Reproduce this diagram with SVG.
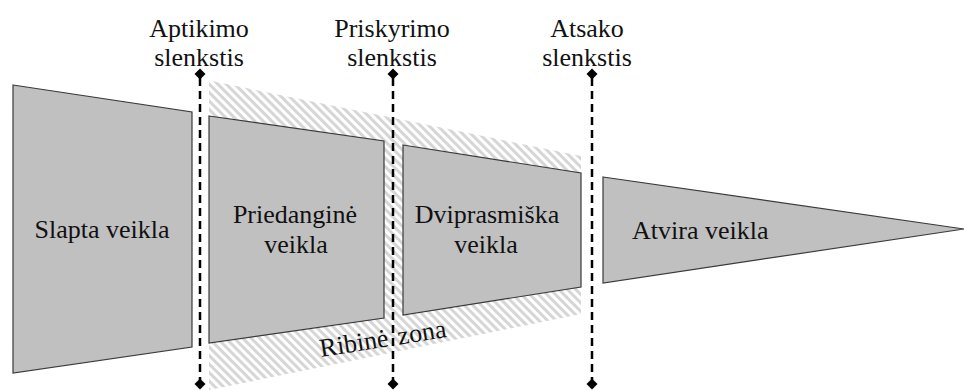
<svg xmlns="http://www.w3.org/2000/svg" width="964" height="390" viewBox="0 0 964 390">
<style>
.shape{fill:#c0c0c0;stroke:#3a3a3a;stroke-width:1.2;stroke-linejoin:miter}
.lbl{font-size:26px;fill:#111;text-anchor:middle}
.thr{stroke:#000;stroke-width:2.5;stroke-dasharray:8 5;fill:none}
.dia{fill:#000}
</style>
<defs>
<pattern id="hatch" patternUnits="userSpaceOnUse" width="6" height="6" patternTransform="rotate(45)">
<rect width="6" height="6" fill="#ffffff"/>
<rect x="0" y="0" width="6" height="3" fill="#d6d6d6"/>
</pattern>
</defs>
<rect width="964" height="390" fill="#fff"/>
<g id="zone">
<polygon points="209,80.5 581,156 581,314 209,390" fill="url(#hatch)"/>
</g>
<g font-family="'Liberation Serif', 'Times New Roman', 'DejaVu Serif', serif">
<g id="slapta">
<polygon class="shape" points="13,85 192,112 192,347 13,373"/>
<text class="lbl" x="102" y="238">Slapta veikla</text>
</g>
<g id="priedangine">
<polygon class="shape" points="209,116 384,141 384,318 209,343"/>
<text class="lbl" x="295" y="223">Priedanginė</text>
<text class="lbl" x="296" y="253">veikla</text>
</g>
<g id="dviprasmiska">
<polygon class="shape" points="403,145 581,173 581,287 403,315"/>
<text class="lbl" x="487" y="223">Dviprasmiška</text>
<text class="lbl" x="486" y="253">veikla</text>
</g>
<g id="atvira">
<polygon class="shape" points="603,177 964,229 603,283"/>
<text class="lbl" x="632" y="239" text-anchor="start" style="text-anchor:start">Atvira veikla</text>
</g>
<g id="connectors">
<line class="thr" x1="200" y1="78" x2="200" y2="380"/>
<line class="thr" x1="393" y1="78" x2="393" y2="380"/>
<line class="thr" x1="592" y1="78" x2="592" y2="380"/>
<path class="dia" d="M200,68.5 L205.5,74 L200,79.5 L194.5,74 Z"/>
<path class="dia" d="M393,68.5 L398.5,74 L393,79.5 L387.5,74 Z"/>
<path class="dia" d="M592,68.5 L597.5,74 L592,79.5 L586.5,74 Z"/>
<path class="dia" d="M200,378.5 L205.5,384 L200,389.5 L194.5,384 Z"/>
<path class="dia" d="M393,378.5 L398.5,384 L393,389.5 L387.5,384 Z"/>
<path class="dia" d="M592,378.5 L597.5,384 L592,389.5 L586.5,384 Z"/>
</g>
<g id="labels">
<text class="lbl" x="199" y="37">Aptikimo</text>
<text class="lbl" x="199" y="66">slenkstis</text>
<text class="lbl" x="392" y="37">Priskyrimo</text>
<text class="lbl" x="392" y="66">slenkstis</text>
<text class="lbl" x="587" y="37">Atsako</text>
<text class="lbl" x="587" y="66">slenkstis</text>
<text class="lbl" x="321" y="357" transform="rotate(-9 321 357)" text-anchor="start" style="text-anchor:start;word-spacing:3px">Ribinė zona</text>
</g>
</g>
</svg>
